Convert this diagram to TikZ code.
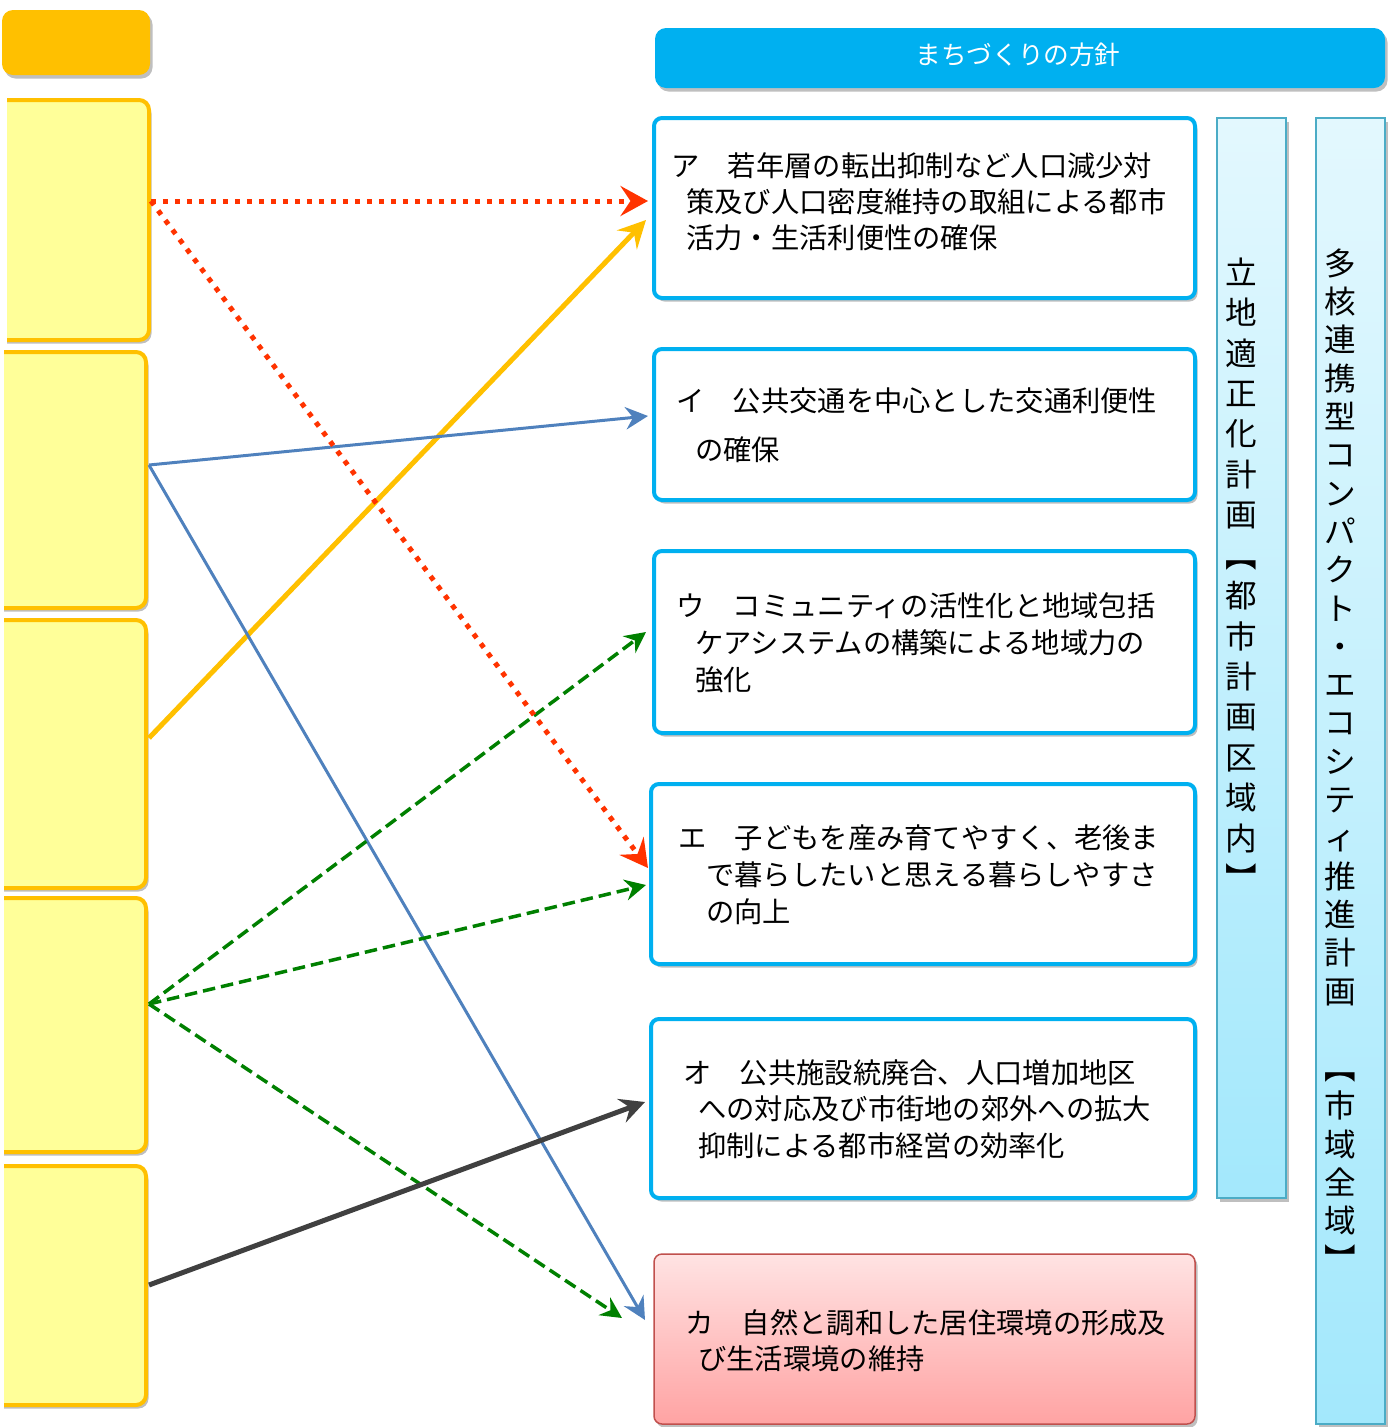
\documentclass[tikz,border=0pt]{standalone}
\usepackage{fontspec}
\setmainfont{Noto Sans CJK JP}
\usetikzlibrary{arrows.meta,fit,shadows}
\definecolor{orangeC}{HTML}{FFC000}
\definecolor{yellowF}{HTML}{FFFF99}
\definecolor{cyanC}{HTML}{00B0F0}
\definecolor{redC}{HTML}{FF3300}
\definecolor{blueC}{HTML}{4F81BD}
\definecolor{greenC}{HTML}{008000}
\definecolor{grayC}{HTML}{404040}
\definecolor{pinkTop}{HTML}{FFE3E3}
\definecolor{pinkBot}{HTML}{FFA3A3}
\definecolor{pinkBorder}{HTML}{C0504D}
\definecolor{barTop}{HTML}{E3F8FE}
\definecolor{barBot}{HTML}{A3E8FC}
\definecolor{barBorder}{HTML}{4BACC6}
\begin{document}
\begin{tikzpicture}[x=0.02cm,y=-0.02cm,
  shadowed/.style={drop shadow={shadow xshift=0.05cm,shadow yshift=-0.07cm,opacity=0.25,fill=black}},
  srcbox/.style={draw=orangeC,line width=0.08cm,fill=yellowF,rounded corners=0.2cm,inner sep=0pt,shadowed},
  topbox/.style={fill=orangeC,rounded corners=0.22cm,inner sep=0pt,shadowed},
  headbox/.style={fill=cyanC,rounded corners=0.22cm,inner sep=0pt,shadowed},
  polbox/.style={draw=cyanC,line width=0.08cm,fill=white,rounded corners=0.16cm,inner sep=0pt,shadowed},
  pinkbox/.style={draw=pinkBorder,line width=0.03cm,top color=pinkTop,bottom color=pinkBot,rounded corners=0.16cm,inner sep=0pt,shadowed},
  barbox/.style={draw=barBorder,line width=0.03cm,top color=barTop,bottom color=barBot,inner sep=0pt,shadowed},
  ptext/.style={anchor=north west,inner sep=0pt,align=left},
  vtext/.style={anchor=north,inner sep=0pt,align=center},
  redarrow/.style={draw=redC,line width=0.1cm,dash pattern=on 0.1cm off 0.14cm,-{Stealth[length=0.55cm,width=0.6cm,inset=0.2cm]}},
  yelarrow/.style={draw=orangeC,line width=0.1cm,-{Stealth[length=0.55cm,width=0.55cm,inset=0.2cm]}},
  bluearrow/.style={draw=blueC,line width=0.06cm,-{Stealth[length=0.45cm,width=0.45cm,inset=0.15cm]}},
  greenarrow/.style={draw=greenC,line width=0.07cm,dash pattern=on 0.25cm off 0.12cm,-{Stealth[length=0.42cm,width=0.42cm,inset=0.14cm]}},
  grayarrow/.style={draw=grayC,line width=0.1cm,-{Stealth[length=0.5cm,width=0.5cm,inset=0.18cm]}}
]
\useasboundingbox (0,0) rectangle (1390,1427);
% left side
\node[topbox,fit={(2,10) (150,75)}] (top) {};
\node[srcbox,fit={(-20,100) (149,340)}] (src1) {};
\node[srcbox,fit={(-20,352) (146,608)}] (src2) {};
\node[srcbox,fit={(-20,620) (146,888)}] (src3) {};
\node[srcbox,fit={(-20,898) (146,1152)}] (src4) {};
\node[srcbox,fit={(-20,1166) (146,1405)}] (src5) {};
\fill[white] (0,90) rectangle (7,346);
\fill[white] (0,346) rectangle (4,1420);
% header
\node[headbox,fit={(655,28) (1385,88)}] (head) {};
\node[text=white,font=\fontsize{14.6}{17}\selectfont,inner sep=0pt] (headtxt) at (1018,55) {まちづくりの方針};
% vertical bars
\node[barbox,fit={(1217,118) (1286,1198)}] (bar1) {};
\node[barbox,fit={(1316,118) (1385,1424)}] (bar2) {};
\node[vtext,font=\fontsize{18}{23}\selectfont] (bar1txt) at (1241,255.5)
 {\rule{0pt}{0.9em}立\\地\\適\\正\\化\\計\\画\\︻\\都\\市\\計\\画\\区\\域\\内\\︼};
\node[vtext,font=\fontsize{18}{21.8}\selectfont] (bar2txt) at (1340,246.5)
 {\rule{0pt}{0.9em}多\\核\\連\\携\\型\\コ\\ン\\パ\\ク\\ト\\・\\エ\\コ\\シ\\テ\\ィ\\推\\進\\計\\画\\~\\︻\\市\\域\\全\\域\\︼};
% policy boxes
\node[polbox,fit={(654,118) (1195,298)}] (pa) {};
\node[polbox,fit={(654,349) (1195,500)}] (pi) {};
\node[polbox,fit={(654,551) (1195,733)}] (pu) {};
\node[polbox,fit={(651,784) (1195,964)}] (pe) {};
\node[polbox,fit={(651,1019) (1195,1198)}] (po) {};
\node[pinkbox,fit={(654,1254) (1195,1424)}] (pk) {};
\node[ptext,font=\fontsize{16.1}{20.7}\selectfont] (ta) at (671,150.2)
 {\rule{0pt}{0.9em}ア　若年層の転出抑制など人口減少対\\\hspace*{0.3cm}策及び人口密度維持の取組による都市\\\hspace*{0.3cm}活力・生活利便性の確保};
\node[ptext,font=\fontsize{16.1}{28.4}\selectfont] (ti) at (676,385.2)
 {\rule{0pt}{0.9em}イ　公共交通を中心とした交通利便性\\\hspace*{0.38cm}の確保};
\node[ptext,font=\fontsize{16.1}{21.3}\selectfont] (tu) at (676,590.2)
 {\rule{0pt}{0.9em}ウ　コミュニティの活性化と地域包括\\\hspace*{0.38cm}ケアシステムの構築による地域力の\\\hspace*{0.38cm}強化};
\node[ptext,font=\fontsize{16.1}{21.3}\selectfont] (te) at (678,822.2)
 {\rule{0pt}{0.9em}エ　子どもを産み育てやすく、老後ま\\\hspace*{0.56cm}で暮らしたいと思える暮らしやすさ\\\hspace*{0.56cm}の向上};
\node[ptext,font=\fontsize{16.1}{21}\selectfont] (to) at (683,1057.2)
 {\rule{0pt}{0.9em}オ　公共施設統廃合、人口増加地区\\\hspace*{0.3cm}への対応及び市街地の郊外への拡大\\\hspace*{0.3cm}抑制による都市経営の効率化};
\node[ptext,font=\fontsize{16.1}{21}\selectfont] (tk) at (685,1307.2)
 {\rule{0pt}{0.9em}カ　自然と調和した居住環境の形成及\\\hspace*{0.26cm}び生活環境の維持};
% connector end points
\coordinate (s1) at (151,201);
\coordinate (s2) at (149,465);
\coordinate (s3) at (149,738);
\coordinate (s4) at (149,1004);
\coordinate (s5) at (149,1285);
\coordinate (ea1) at (648,201);
\coordinate (ea2) at (646,220);
\coordinate (ei) at (648,416);
\coordinate (eu) at (646,632);
\coordinate (ee1) at (648,868);
\coordinate (ee2) at (646,885);
\coordinate (eo) at (645,1102);
\coordinate (ek1) at (622,1318);
\coordinate (ek2) at (645,1320);
% connectors
\draw[yelarrow] (s3) -- (ea2);
\draw[bluearrow] (s2) -- (ei);
\draw[bluearrow] (s2) -- (ek2);
\draw[greenarrow] (s4) -- (eu);
\draw[greenarrow] (s4) -- (ee2);
\draw[greenarrow] (s4) -- (ek1);
\draw[grayarrow] (s5) -- (eo);
\draw[redarrow] (s1) -- (ea1);
\draw[redarrow] (s1) -- (ee1);
\end{tikzpicture}
\end{document}
